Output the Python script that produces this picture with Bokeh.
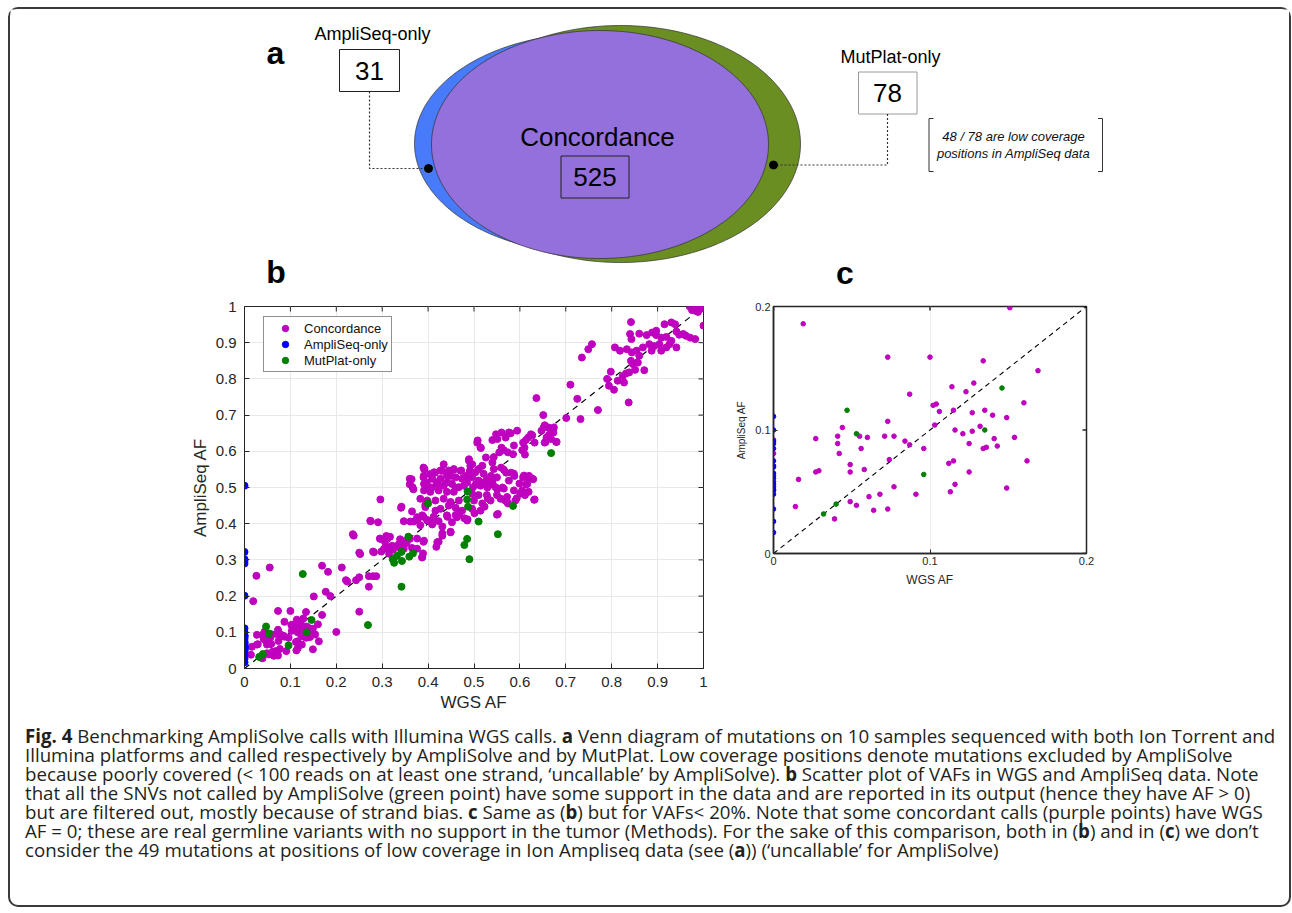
import numpy as np
from bokeh.plotting import figure
from bokeh.models import Range1d, FixedTicker, Div, Spacer
from bokeh.layouts import column, row
from bokeh.core.properties import value
from bokeh.embed import file_html
from bokeh.resources import INLINE

# ------------------------------------------------------------------ data
venn_names = ["AmpliSeq-only", "Concordance", "MutPlat-only"]
venn_counts = [31, 525, 78]
low_cov_note = ["48 / 78 are low coverage", "positions in AmpliSeq data"]
panel_letters = ["a", "b", "c"]
series_names = ["Concordance", "AmpliSeq-only", "MutPlat-only"]
axis_x_title = "WGS AF"
axis_y_title = "AmpliSeq AF"

b_limits = [0, 1]
b_ticks = [0, 0.1, 0.2, 0.3, 0.4, 0.5, 0.6, 0.7, 0.8, 0.9, 1]
b_tick_labels = ["0", "0.1", "0.2", "0.3", "0.4", "0.5", "0.6", "0.7", "0.8", "0.9", "1"]
c_limits = [0, 0.2]
c_ticks = [0, 0.1, 0.2]
c_tick_labels = ["0", "0.1", "0.2"]

# concordant calls (WGS AF, AmpliSeq AF) with both VAFs < 20 %
conc_low = [
    (0.019, 0.186), (0.151, 0.199), (0.073, 0.159), (0.100, 0.159), (0.134, 0.156),
    (0.169, 0.148), (0.128, 0.138), (0.114, 0.135), (0.087, 0.129), (0.123, 0.131),
    (0.160, 0.122), (0.102, 0.120), (0.104, 0.121), (0.106, 0.115), (0.115, 0.116),
    (0.127, 0.114), (0.135, 0.116), (0.140, 0.112), (0.149, 0.110), (0.073, 0.107),
    (0.103, 0.104), (0.044, 0.102), (0.132, 0.103), (0.116, 0.100), (0.027, 0.093),
    (0.041, 0.095), (0.055, 0.095), (0.060, 0.094), (0.071, 0.095), (0.077, 0.095),
    (0.084, 0.091), (0.087, 0.088), (0.121, 0.097), (0.127, 0.099), (0.141, 0.093),
    (0.154, 0.094), (0.041, 0.089), (0.056, 0.085), (0.096, 0.085), (0.125, 0.089),
    (0.134, 0.085), (0.136, 0.086), (0.143, 0.087), (0.042, 0.081), (0.074, 0.076),
    (0.112, 0.073), (0.115, 0.075), (0.162, 0.075), (0.049, 0.072), (0.027, 0.066),
    (0.029, 0.067), (0.049, 0.066), (0.058, 0.068), (0.125, 0.066), (0.016, 0.060),
    (0.116, 0.056), (0.077, 0.054), (0.149, 0.053), (0.068, 0.048), (0.091, 0.048),
    (0.113, 0.050), (0.061, 0.046), (0.049, 0.042), (0.053, 0.039), (0.014, 0.038),
    (0.064, 0.035), (0.073, 0.036), (0.039, 0.028), (0.000, 0.092), (0.000, 0.081),
]
# concordant calls, VAF between 0.1 and 0.5
conc_mid = [
    (0.026, 0.256), (0.055, 0.279), (0.169, 0.284), (0.182, 0.267), (0.212, 0.279),
    (0.221, 0.244), (0.224, 0.240), (0.177, 0.212), (0.187, 0.200), (0.200, 0.101),
    (0.250, 0.157), (0.236, 0.371), (0.238, 0.367), (0.250, 0.320), (0.250, 0.252),
    (0.243, 0.244), (0.271, 0.255), (0.280, 0.255), (0.287, 0.255), (0.271, 0.226),
    (0.274, 0.408), (0.291, 0.404), (0.296, 0.467), (0.280, 0.323), (0.295, 0.359),
    (0.298, 0.323), (0.306, 0.350), (0.309, 0.366), (0.317, 0.364), (0.315, 0.335),
    (0.324, 0.329), (0.333, 0.336), (0.339, 0.357), (0.346, 0.341), (0.353, 0.346),
    (0.342, 0.447), (0.361, 0.406), (0.368, 0.406), (0.377, 0.410), (0.390, 0.419),
    (0.383, 0.396), (0.398, 0.410), (0.376, 0.359), (0.390, 0.350), (0.389, 0.318),
    (0.387, 0.307), (0.394, 0.452), (0.409, 0.401), (0.412, 0.419), (0.418, 0.336),
    (0.423, 0.350), (0.431, 0.392), (0.442, 0.419), (0.431, 0.373), (0.449, 0.378),
    (0.460, 0.424), (0.468, 0.429), (0.479, 0.415), (0.486, 0.412), (0.501, 0.429),
    (0.523, 0.447), (0.530, 0.470), (0.552, 0.427), (0.567, 0.465), (0.574, 0.456),
    (0.593, 0.470), (0.611, 0.479), (0.632, 0.467), (0.619, 0.488), (0.252, 0.316),
    (0.275, 0.407), (0.341, 0.444), (0.365, 0.434), (0.347, 0.407), (0.376, 0.418),
    (0.387, 0.423), (0.409, 0.398), (0.423, 0.407), (0.449, 0.376), (0.431, 0.367),
    (0.420, 0.349), (0.391, 0.353), (0.376, 0.331), (0.360, 0.358), (0.346, 0.352),
    (0.311, 0.358), (0.296, 0.358), (0.304, 0.331), (0.322, 0.339), (0.336, 0.343),
    (0.347, 0.331), (0.315, 0.317), (0.365, 0.333), (0.387, 0.307), (0.282, 0.321),
]
# concordant calls, heterozygous cluster around 0.5
conc_het = [
    (0.360, 0.524), (0.366, 0.501), (0.391, 0.552), (0.391, 0.533), (0.391, 0.510),
    (0.392, 0.551), (0.413, 0.542), (0.427, 0.547), (0.445, 0.547), (0.456, 0.549),
    (0.472, 0.547), (0.489, 0.574), (0.492, 0.560), (0.503, 0.542), (0.518, 0.560),
    (0.521, 0.538), (0.543, 0.551), (0.565, 0.549), (0.587, 0.538), (0.609, 0.533),
    (0.620, 0.528), (0.627, 0.524), (0.576, 0.519), (0.550, 0.528), (0.528, 0.524),
    (0.510, 0.519), (0.496, 0.528), (0.474, 0.524), (0.460, 0.528), (0.441, 0.533),
    (0.427, 0.524), (0.409, 0.524), (0.398, 0.505), (0.420, 0.510), (0.434, 0.505),
    (0.452, 0.510), (0.467, 0.501), (0.478, 0.505), (0.498, 0.501), (0.514, 0.505),
    (0.532, 0.505), (0.547, 0.501), (0.565, 0.497), (0.587, 0.492), (0.605, 0.492),
    (0.616, 0.510), (0.601, 0.483), (0.572, 0.474), (0.550, 0.479), (0.528, 0.479),
    (0.510, 0.479), (0.496, 0.483), (0.456, 0.488), (0.441, 0.488), (0.423, 0.492),
    (0.405, 0.488), (0.391, 0.492), (0.383, 0.469), (0.398, 0.464), (0.416, 0.464),
    (0.434, 0.469), (0.449, 0.460), (0.467, 0.464), (0.500, 0.464), (0.518, 0.456),
    (0.536, 0.464), (0.558, 0.469), (0.572, 0.460), (0.590, 0.464), (0.631, 0.466),
    (0.394, 0.446), (0.416, 0.436), (0.427, 0.441), (0.445, 0.450), (0.460, 0.444),
    (0.474, 0.436), (0.496, 0.441), (0.514, 0.436), (0.550, 0.425), (0.441, 0.423),
    (0.463, 0.418), (0.485, 0.409), (0.398, 0.409), (0.452, 0.404),
    (0.508, 0.630), (0.514, 0.611), (0.540, 0.631), (0.560, 0.652), (0.580, 0.650),
    (0.594, 0.657), (0.613, 0.631), (0.627, 0.644), (0.652, 0.666), (0.663, 0.644),
    (0.674, 0.666), (0.680, 0.626), (0.656, 0.626), (0.587, 0.616), (0.605, 0.603),
    (0.611, 0.591), (0.565, 0.603), (0.543, 0.584), (0.576, 0.652), (0.548, 0.647),
    (0.569, 0.638), (0.551, 0.634), (0.560, 0.610), (0.574, 0.597), (0.585, 0.592),
    (0.607, 0.624), (0.618, 0.638), (0.624, 0.647), (0.632, 0.624), (0.610, 0.610),
    (0.588, 0.532), (0.620, 0.532), (0.629, 0.523), (0.607, 0.528), (0.599, 0.511),
    (0.614, 0.509), (0.507, 0.624), (0.515, 0.609), (0.555, 0.597), (0.526, 0.583),
    (0.510, 0.551), (0.540, 0.569), (0.559, 0.555), (0.570, 0.541), (0.537, 0.532),
    (0.581, 0.541), (0.489, 0.578), (0.496, 0.564), (0.491, 0.546), (0.482, 0.532),
    (0.471, 0.546), (0.456, 0.551), (0.449, 0.532), (0.434, 0.564), (0.430, 0.546),
    (0.415, 0.541), (0.404, 0.537), (0.390, 0.555), (0.390, 0.528), (0.397, 0.514),
    (0.364, 0.523), (0.360, 0.509), (0.368, 0.495), (0.408, 0.500), (0.419, 0.514),
    (0.441, 0.514), (0.460, 0.500), (0.485, 0.514), (0.504, 0.509), (0.521, 0.514),
    (0.529, 0.500), (0.540, 0.514), (0.551, 0.495), (0.562, 0.500),
]
# concordant calls, high VAF
conc_high = [
    (0.636, 0.747), (0.651, 0.700), (0.654, 0.672), (0.662, 0.666), (0.665, 0.647),
    (0.673, 0.652), (0.658, 0.638), (0.679, 0.626), (0.654, 0.624), (0.668, 0.634),
    (0.647, 0.657), (0.701, 0.692), (0.710, 0.784), (0.725, 0.745), (0.732, 0.689),
    (0.770, 0.714), (0.735, 0.859), (0.749, 0.882), (0.757, 0.896), (0.790, 0.800),
    (0.794, 0.781), (0.805, 0.770), (0.813, 0.795), (0.798, 0.820), (0.837, 0.735),
    (0.827, 0.790), (0.824, 0.808), (0.831, 0.815), (0.838, 0.818), (0.851, 0.825),
    (0.871, 0.824), (0.842, 0.850), (0.846, 0.841), (0.857, 0.845), (0.807, 0.887),
    (0.818, 0.878), (0.833, 0.882), (0.844, 0.873), (0.854, 0.878), (0.860, 0.864),
    (0.868, 0.887), (0.882, 0.896), (0.887, 0.878), (0.893, 0.891), (0.904, 0.896),
    (0.908, 0.878), (0.919, 0.887), (0.926, 0.896), (0.930, 0.905), (0.941, 0.887),
    (0.842, 0.957), (0.840, 0.924), (0.860, 0.925), (0.843, 0.910), (0.876, 0.921),
    (0.888, 0.928), (0.897, 0.921), (0.908, 0.914), (0.919, 0.916), (0.941, 0.931),
    (0.947, 0.922), (0.956, 0.924), (0.962, 0.919), (0.971, 0.914), (0.982, 0.910),
    (0.930, 0.956), (0.938, 0.951), (0.915, 0.951), (0.897, 0.933), (0.970, 1.000),
    (0.978, 0.997), (0.985, 1.000), (0.993, 1.000), (1.000, 1.000), (0.975, 0.990),
    (0.982, 0.993), (0.990, 0.995), (0.997, 0.995), (1.000, 0.947), (0.988, 0.985),
]
# AmpliSeq-only calls: WGS AF is 0
ampli_only_y = [0.505, 0.322, 0.302, 0.297, 0.290, 0.201, 0.111, 0.100, 0.091,
                0.089, 0.085, 0.075, 0.071, 0.070, 0.065, 0.063, 0.061, 0.058,
                0.056, 0.054, 0.052, 0.051, 0.048, 0.036, 0.026, 0.017]
# MutPlat-only calls (WGS AF, AmpliSeq AF)
mutplat_only = [
    (0.047, 0.116), (0.053, 0.097), (0.146, 0.134), (0.135, 0.100), (0.096, 0.064),
    (0.040, 0.040), (0.032, 0.032), (0.668, 0.595), (0.585, 0.449), (0.486, 0.489),
    (0.485, 0.467), (0.487, 0.447), (0.400, 0.456), (0.510, 0.406), (0.552, 0.371),
    (0.485, 0.358), (0.479, 0.341), (0.490, 0.302), (0.357, 0.364), (0.323, 0.302),
    (0.326, 0.292), (0.332, 0.311), (0.342, 0.322), (0.343, 0.297), (0.359, 0.309),
    (0.367, 0.318), (0.342, 0.226), (0.269, 0.120), (0.127, 0.261),
]

caption_lines = [
    "<b>Fig. 4</b> Benchmarking AmpliSolve calls with Illumina WGS calls. <b>a</b> Venn diagram of mutations on 10 samples sequenced with both Ion Torrent and",
    "Illumina platforms and called respectively by AmpliSolve and by MutPlat. Low coverage positions denote mutations excluded by AmpliSolve",
    "because poorly covered (&lt; 100 reads on at least one strand, \u2018uncallable\u2019 by AmpliSolve). <b>b</b> Scatter plot of VAFs in WGS and AmpliSeq data. Note",
    "that all the SNVs not called by AmpliSolve (green point) have some support in the data and are reported in its output (hence they have AF &gt; 0)",
    "but are filtered out, mostly because of strand bias. <b>c</b> Same as (<b>b</b>) but for VAFs&lt; 20%. Note that some concordant calls (purple points) have WGS",
    "AF = 0; these are real germline variants with no support in the tumor (Methods). For the sake of this comparison, both in (<b>b</b>) and in (<b>c</b>) we don\u2019t",
    "consider the 49 mutations at positions of low coverage in Ion Ampliseq data (see (<b>a</b>)) (\u2018uncallable\u2019 for AmpliSolve)",
]

# ------------------------------------------------------------------ styles / layout constants
FONT = "Liberation Sans"
PURPLE = "#BF00BF"
BLUE = "#0000FF"
GREEN = "#008000"
AXC = "#262626"

conc = conc_low + conc_mid + conc_het + conc_high
conc_x = [p[0] for p in conc]
conc_y = [p[1] for p in conc]
amp_x = [0.0 for _ in ampli_only_y]
amp_y = list(ampli_only_y)
mut_x = [p[0] for p in mutplat_only]
mut_y = [p[1] for p in mutplat_only]

OX, OY = 10, 9          # page position of the content origin (inside the frame)
W = 1279
H_TOP = 289
H_ROW = 418
H_CAP = 896 - H_TOP - H_ROW

# ------------------------------------------------------------------ panel a (page coordinates)
p0 = figure(width=W, height=H_TOP, x_range=Range1d(OX, OX + W), y_range=Range1d(OY + H_TOP, OY),
            x_axis_location=None, y_axis_location=None, toolbar_location=None,
            output_backend="svg", min_border=0)
p0.grid.visible = False
p0.outline_line_color = None

t = np.linspace(0, 2 * np.pi, 260)
def ellipse_outline(cx, cy, a, b):
    return cx + a * np.cos(t), cy + b * np.sin(t)

gx, gy = ellipse_outline(620, 143.5, 180, 118.5)
bx, by = ellipse_outline(590, 143, 176, 110)
cx_, cy_ = ellipse_outline(599.5, 144, 168.5, 114)
p0.patch(gx, gy, fill_color="#6B8E23", line_color="#303030", line_width=0.7)
p0.patch(bx, by, fill_color="#477BFA", line_color="#303030", line_width=0.7)
p0.patch(cx_, cy_, fill_color="#9370DB", line_color="#303030", line_width=0.7)

# count boxes
p0.quad(left=[339, 858], right=[399, 916.5], top=[49, 71.5], bottom=[91, 113.5],
        fill_color="white", line_color=["#222222", "#9a9a9a"], line_width=1)
p0.quad(left=[560.5], right=[628.5], top=[155.5], bottom=[197.5],
        fill_color=None, line_color="#222222", line_width=1)

p0.text(x=[369, 594.5, 887], y=[70, 176.5, 92.5], text=[str(v) for v in venn_counts],
        text_font=value(FONT), text_font_size="26px", text_align="center",
        text_baseline="middle", text_color="black")
p0.text(x=[372, 597, 890], y=[33.5, 136, 56.5], text=venn_names,
        text_font=value(FONT), text_font_size=["18px", "26px", "18px"], text_align="center",
        text_baseline="middle", text_color="black")

# connectors
p0.line([369, 369, 428], [91, 168, 168], line_dash="2 2", line_color="#333333", line_width=1.2)
p0.line([887, 887, 773], [113.5, 164.5, 164.5], line_dash="2 2", line_color="#333333", line_width=1.2)
p0.scatter([428, 773], [168, 164.5], size=8, color="black")

# bracket note
p0.multi_line([[933, 928.5, 928.5, 933], [1097.5, 1102, 1102, 1097.5]],
              [[118, 118, 171, 171], [118, 118, 171, 171]], line_color="#333333", line_width=1)
p0.text(x=[1013, 1013], y=[136, 152.5], text=low_cov_note, text_font=value(FONT),
        text_font_size="13px", text_font_style="italic", text_align="center",
        text_baseline="middle", text_color="#111111")

p0.text(x=[275, 275.5, 844.5], y=[52, 271, 272], text=panel_letters, text_font=value(FONT),
        text_font_size="32px", text_font_style="bold", text_align="center",
        text_baseline="middle", text_color="black")


# ------------------------------------------------------------------ scatter helpers
def style_axes(p, ticks, labels, lim, frame_w, frame_h, tick_size, label_size, tick_len,
               line_w, standoff, label_standoff, grid_color, ygrid=True):
    over = {tk: lb for tk, lb in zip(ticks, labels)}
    for ax in (p.xaxis[0], p.yaxis[0]):
        ax.ticker = FixedTicker(ticks=ticks)
        ax.major_label_overrides = over
        ax.major_tick_in = tick_len
        ax.major_tick_out = 0
        ax.minor_tick_line_color = None
        ax.axis_line_color = AXC
        ax.axis_line_width = line_w
        ax.major_tick_line_color = AXC
        ax.major_label_text_font = FONT
        ax.major_label_text_font_size = tick_size
        ax.major_label_text_color = AXC
        ax.major_label_standoff = standoff
        ax.axis_label_text_font = FONT
        ax.axis_label_text_font_size = label_size
        ax.axis_label_text_font_style = "normal"
        ax.axis_label_text_color = AXC
        ax.axis_label_standoff = label_standoff
    # inward tick marks on the top and right edges of the box
    span = lim[1] - lim[0]
    dx = tick_len / frame_w * span
    dy = tick_len / frame_h * span
    n = len(ticks)
    p.segment(x0=ticks, y0=[lim[1]] * n, x1=ticks, y1=[lim[1] - dy] * n,
              line_color=AXC, line_width=line_w)
    p.segment(x0=[lim[1]] * n, y0=ticks, x1=[lim[1] - dx] * n, y1=ticks,
              line_color=AXC, line_width=line_w)
    p.xgrid.ticker = FixedTicker(ticks=ticks)
    p.ygrid.ticker = FixedTicker(ticks=ticks)
    p.xgrid.grid_line_color = grid_color
    p.ygrid.grid_line_color = grid_color if ygrid else None
    p.outline_line_color = AXC
    p.outline_line_width = line_w


# ------------------------------------------------------------------ panel b
pb = figure(frame_width=459, frame_height=362, x_range=Range1d(*b_limits), y_range=Range1d(*b_limits),
            toolbar_location=None, output_backend="svg",
            min_border_left=60, min_border_right=14, min_border_top=8, min_border_bottom=48,
            x_axis_label=axis_x_title, y_axis_label=axis_y_title)
style_axes(pb, b_ticks, b_tick_labels, b_limits, 459, 362, "15px", "17px", 5, 1, 8, 3, "#e8e8e8")
pb.line(b_limits, b_limits, line_dash="6 5", line_color="black", line_width=1.2)
pb.scatter(conc_x, conc_y, size=7, color=PURPLE, legend_label=series_names[0])
pb.scatter(amp_x, amp_y, size=7, color=BLUE, legend_label=series_names[1])
pb.scatter(mut_x, mut_y, size=7, color=GREEN, legend_label=series_names[2])
lg = pb.legend[0]
lg.location = (19, 296)
lg.padding = 3
lg.margin = 0
lg.spacing = 0
lg.glyph_width = 36
lg.glyph_height = 16
lg.label_height = 16
lg.label_standoff = 1
lg.label_text_font = FONT
lg.label_text_font_size = "13px"
lg.label_text_color = "#111111"
lg.border_line_color = "#222222"
lg.border_line_width = 1
lg.background_fill_alpha = 1

# ------------------------------------------------------------------ panel c
def in_c(x, y):
    return x < c_limits[1] and y < c_limits[1]

cc = [(x, y) for x, y in zip(conc_x, conc_y) if in_c(x, y)]
ca = [(x, y) for x, y in zip(amp_x, amp_y) if in_c(x, y)]
cm = [(x, y) for x, y in zip(mut_x, mut_y) if in_c(x, y)]

pc = figure(frame_width=313, frame_height=247, x_range=Range1d(*c_limits), y_range=Range1d(*c_limits),
            toolbar_location=None, output_backend="svg",
            min_border_left=40, min_border_right=14, min_border_top=8, min_border_bottom=40,
            x_axis_label=axis_x_title, y_axis_label=axis_y_title)
style_axes(pc, c_ticks, c_tick_labels, c_limits, 313, 247, "11px", "12px", 4, 1.5, 3, 5,
           "#eeeeee", ygrid=False)
pc.yaxis[0].axis_label_text_font_size = "10px"
pc.line(c_limits, c_limits, line_dash="5 4", line_color="black", line_width=1.1)
pc.scatter([p[0] for p in cc], [p[1] for p in cc], size=4.6, color=PURPLE)
pc.scatter([p[0] for p in ca], [p[1] for p in ca], size=4.6, color=BLUE)
pc.scatter([p[0] for p in cm], [p[1] for p in cm], size=4.6, color=GREEN)

mid_row = row(Spacer(width=174, height=H_ROW), pb, Spacer(width=16, height=10), pc,
              Spacer(width=W - 174 - 533 - 16 - 367, height=10))

# ------------------------------------------------------------------ caption
cap_html = ('<div style="font-family:\'Open Sans\';font-size:18.7px;line-height:19px;color:#231f20;'
            'white-space:nowrap;padding:9.5px 0 0 15px;">' + "<br>".join(caption_lines) + "</div>")
cap = Div(text=cap_html, width=W, height=H_CAP, margin=0)

root = column(p0, mid_row, cap,
              styles={"border": "2px solid #3a3a3a", "border-radius": "10px",
                      "margin": "7px 0 0 8px"})

open("out.html", "w").write(file_html(root, INLINE))
